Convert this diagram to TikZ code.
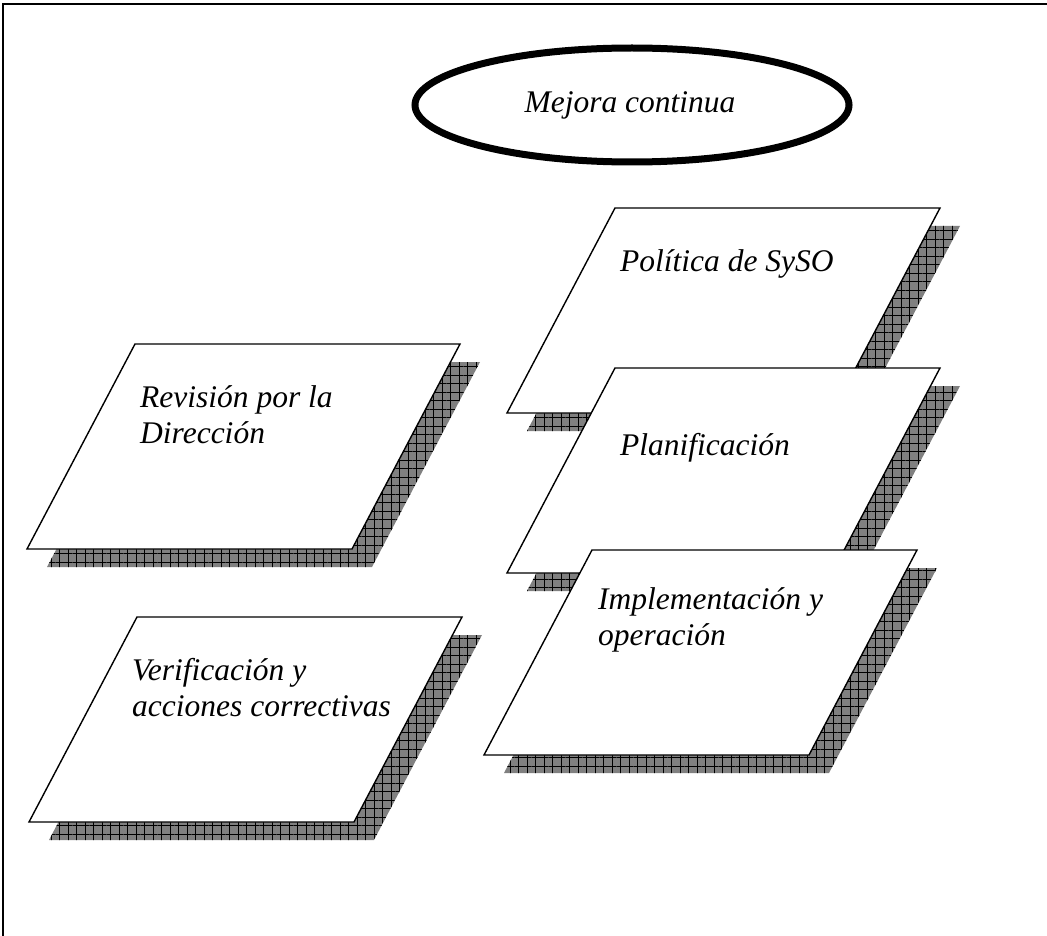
\documentclass[tikz,border=0pt]{standalone}
\usepackage{fontspec}
\setmainfont{Liberation Serif}
\usetikzlibrary{patterns.meta}

\begin{document}
\begin{tikzpicture}[x=1pt, y=-1pt,
    plate/.style={draw, fill=white, line width=1.4pt},
    shade/.style={preaction={fill=gray}, pattern={Hatch[angle=0, distance=8.5pt, line width=0.6pt]}},
    lbl/.style={anchor=base west, align=left, inner sep=0pt, font=\fontsize{31.5}{36}\selectfont\itshape}
]
\useasboundingbox (0,0) rectangle (1047,936);
\draw[line width=1.6pt] (3,936) -- (3,4) -- (1047,4);

\node[lbl, anchor=base] (mejora) at (630,113) {Mejora continua};
\draw[line width=7pt] (632,105) ellipse [x radius=217, y radius=57];

% left column
\path[shade] (155,362) -- ++(325,0) -- ++(-108,205) -- ++(-325,0) -- cycle;
\path[plate] (135,344) -- ++(325,0) -- ++(-108,205) -- ++(-325,0) -- cycle;
\node[lbl] (rev) at (140,443) {Revisión por la\\Dirección};

\path[shade] (157,635) -- ++(325,0) -- ++(-108,205) -- ++(-325,0) -- cycle;
\path[plate] (137,617) -- ++(325,0) -- ++(-108,205) -- ++(-325,0) -- cycle;
\node[lbl] (ver) at (132,716) {Verificación y\\acciones correctivas};

% right column, stacked
\path[shade] (635,226) -- ++(325,0) -- ++(-108,205) -- ++(-325,0) -- cycle;
\path[plate] (615,208) -- ++(325,0) -- ++(-108,205) -- ++(-325,0) -- cycle;
\node[lbl] (pol) at (620,271) {Política de SySO};

\path[shade] (635,386) -- ++(325,0) -- ++(-108,205) -- ++(-325,0) -- cycle;
\path[plate] (615,368) -- ++(325,0) -- ++(-108,205) -- ++(-325,0) -- cycle;
\node[lbl] (plan) at (620,455) {Planificación};

\path[shade] (612,568) -- ++(325,0) -- ++(-108,205) -- ++(-325,0) -- cycle;
\path[plate] (592,550) -- ++(325,0) -- ++(-108,205) -- ++(-325,0) -- cycle;
\node[lbl] (impl) at (598,645) {Implementación y\\operación};
\end{tikzpicture}
\end{document}
